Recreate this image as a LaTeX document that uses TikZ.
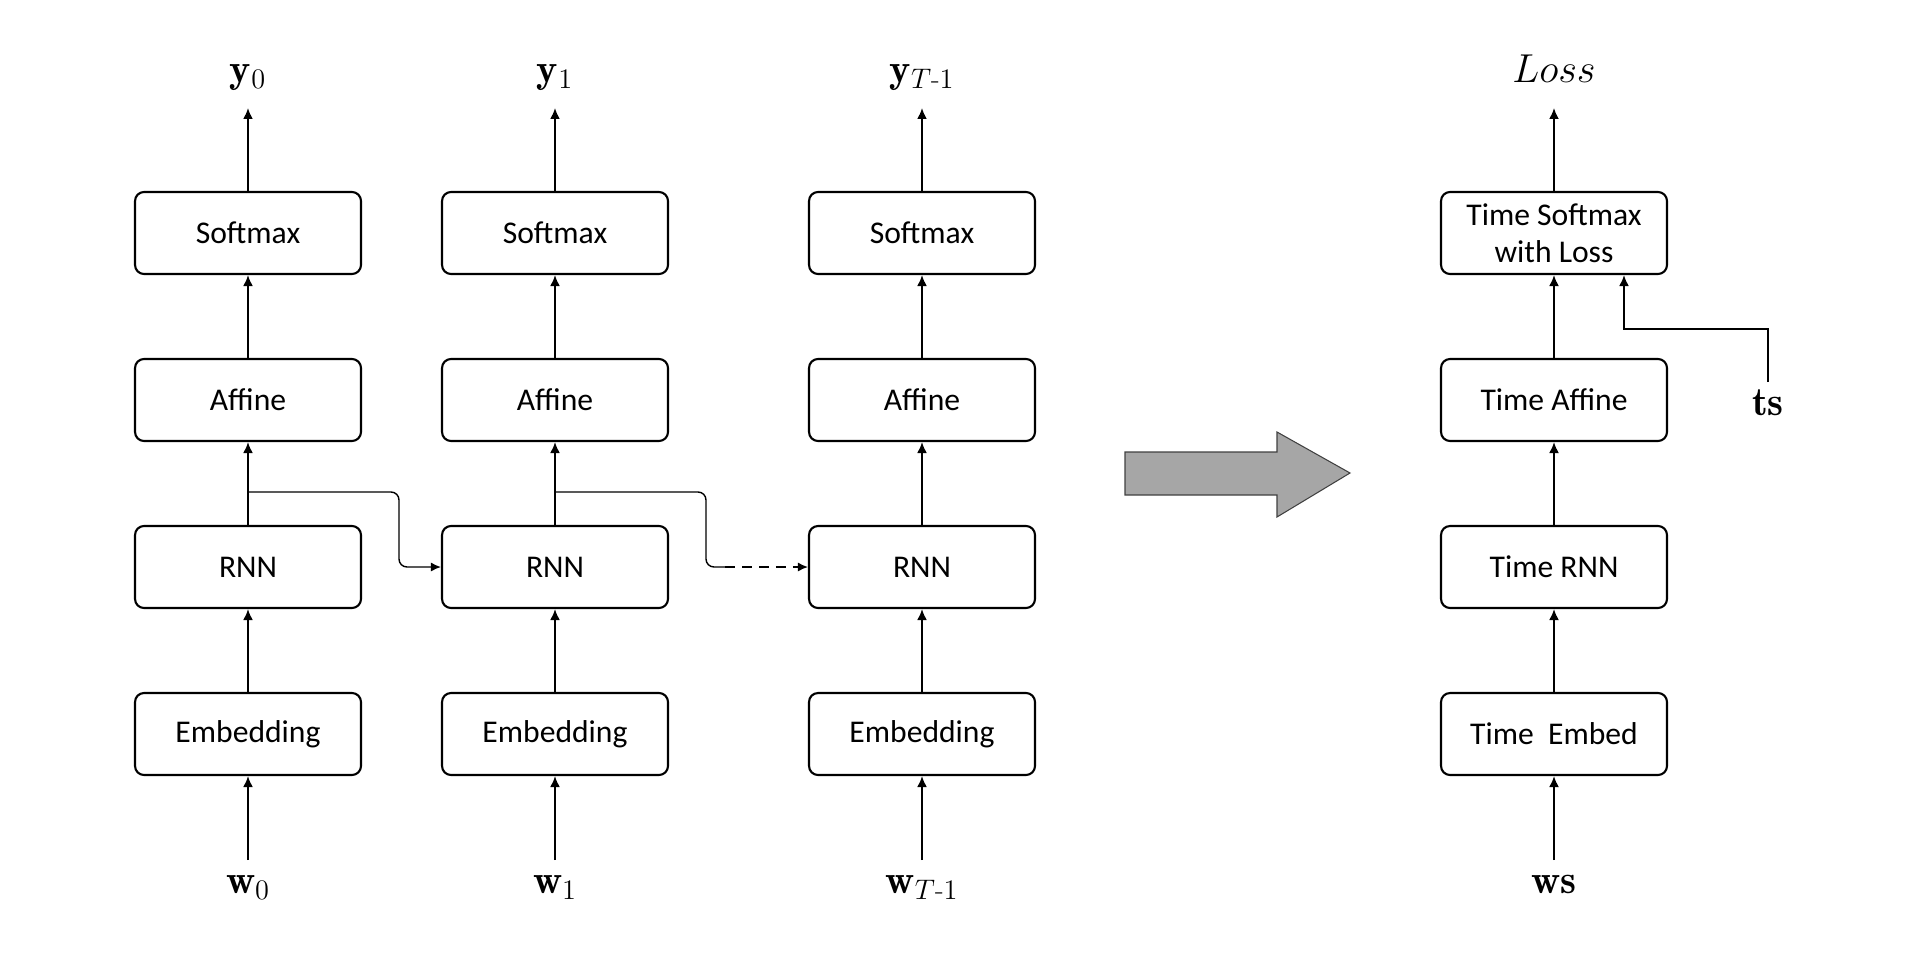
\RequirePackage{fix-cm}
\documentclass[tikz,border=0pt]{standalone}
\usepackage{amsmath}
\usepackage{fontspec}
\newfontfamily\boxfont{Carlito}
\usetikzlibrary{arrows.meta}

\definecolor{arrowgray}{RGB}{166,166,166}

\tikzset{
	layer/.style={draw, line width=1.2pt, rounded corners=0.18cm, minimum width=4.52cm, minimum height=1.64cm, inner sep=0pt, align=center, font=\boxfont\fontsize{18}{21}\selectfont},
	var/.style={font=\fontsize{23}{27}\selectfont, text height=0.37cm, text depth=0.2cm, inner sep=0.3cm},
	flow/.style={-{Latex[length=0.22cm,width=0.2cm]}, line width=1.1pt},
	link/.style={-{Latex[length=0.2cm,width=0.18cm]}, line width=0.8pt, rounded corners=0.16cm},
}

\begin{document}
\begin{tikzpicture}[x=0.02cm, y=-0.02cm]
	\useasboundingbox (0,0) rectangle (1920,970);

	% unrolled layers
	\node[layer] (emb0) at (248,734) {Embedding};
	\node[layer] (rnn0) at (248,567) {RNN};
	\node[layer] (aff0) at (248,400) {Affine};
	\node[layer] (soft0) at (248,233) {Softmax};
	\node[var, anchor=north] (w0) at (248,860) {$\mathbf{w}_0$};
	\node[var, anchor=south] (y0) at (248,108) {$\mathbf{y}_0$};

	\node[layer] (emb1) at (555,734) {Embedding};
	\node[layer] (rnn1) at (555,567) {RNN};
	\node[layer] (aff1) at (555,400) {Affine};
	\node[layer] (soft1) at (555,233) {Softmax};
	\node[var, anchor=north] (w1) at (555,860) {$\mathbf{w}_1$};
	\node[var, anchor=south] (y1) at (555,108) {$\mathbf{y}_1$};

	\node[layer] (emb2) at (922,734) {Embedding};
	\node[layer] (rnn2) at (922,567) {RNN};
	\node[layer] (aff2) at (922,400) {Affine};
	\node[layer] (soft2) at (922,233) {Softmax};
	\node[var, anchor=north] (w2) at (922,860) {$\mathbf{w}_{T\text{-}1}$};
	\node[var, anchor=south] (y2) at (922,108) {$\mathbf{y}_{T\text{-}1}$};

	\draw[flow] (w0) -- (emb0);
	\draw[flow] (emb0) -- (rnn0);
	\draw[flow] (rnn0) -- (aff0);
	\draw[flow] (aff0) -- (soft0);
	\draw[flow] (soft0) -- (y0);

	\draw[flow] (w1) -- (emb1);
	\draw[flow] (emb1) -- (rnn1);
	\draw[flow] (rnn1) -- (aff1);
	\draw[flow] (aff1) -- (soft1);
	\draw[flow] (soft1) -- (y1);

	\draw[flow] (w2) -- (emb2);
	\draw[flow] (emb2) -- (rnn2);
	\draw[flow] (rnn2) -- (aff2);
	\draw[flow] (aff2) -- (soft2);
	\draw[flow] (soft2) -- (y2);

	% hidden state
	\coordinate (h0) at (248,492);
	\coordinate (c0) at (399,567);
	\draw[link] (h0) -| (c0) -- (rnn1);

	\coordinate (h1) at (555,492);
	\coordinate (c1) at (706,567);
	\coordinate (d1) at (725,567);
	\draw[line width=0.8pt, rounded corners=0.16cm] (h1) -| (c1) -- (d1);
	\draw[link, dash pattern=on 0.2cm off 0.14cm] (d1) -- (rnn2);

	% big arrow
	\draw[fill=arrowgray, draw=black!75, line width=0.6pt] (1125,452) -- (1277,452) -- (1277,432) -- (1350,473) -- (1277,517) -- (1277,495) -- (1125,495) -- cycle;

	% time layers
	\node[layer] (tembed) at (1554,734) {Time\ \ Embed};
	\node[layer] (trnn) at (1554,567) {Time RNN};
	\node[layer] (taff) at (1554,400) {Time Affine};
	\node[layer] (tsm) at (1554,233) {Time Softmax\\with Loss};
	\node[var, anchor=north] (ws) at (1554,860) {$\mathbf{ws}$};
	\node[var, anchor=south] (loss) at (1554,108) {$Loss$};
	\node[var, anchor=north] (ts) at (1768,382) {$\mathbf{ts}$};
	\coordinate (tsbend) at (1768,329);

	\draw[flow] (ws) -- (tembed);
	\draw[flow] (tembed) -- (trnn);
	\draw[flow] (trnn) -- (taff);
	\draw[flow] (taff) -- (tsm);
	\draw[flow] (tsm) -- (loss);
	\draw[flow] (ts) -- (tsbend) -| ([xshift=1.4cm]tsm.south);
\end{tikzpicture}
\end{document}
